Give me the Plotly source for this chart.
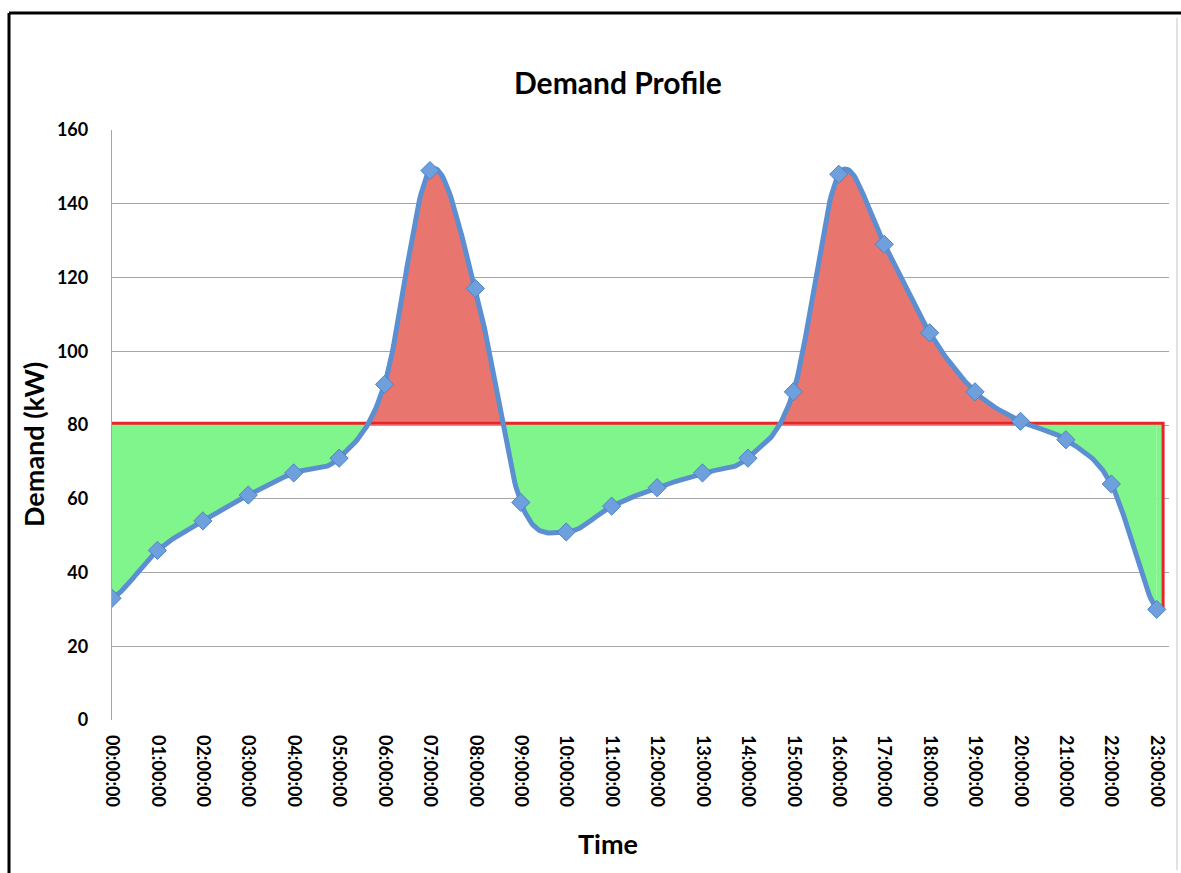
import numpy as np
import plotly.graph_objects as go

# Hourly demand (kW)
hours = [f"{h:02d}:00:00" for h in range(24)]
demand = [33, 46, 54, 61, 67, 71, 91, 149, 117, 59, 51, 58,
          63, 67, 71, 89, 148, 129, 105, 89, 81, 76, 64, 30]
threshold = 80.5
y_ticks = [0, 20, 40, 60, 80, 100, 120, 140, 160]

FONT = "Lato, 'Open Sans', sans-serif"
LINE_BLUE = "#5B8FD2"
RED_FILL = "#E8766E"
GREEN_FILL = "#80F58C"
THRESH_RED = "#E8262A"


def smooth_curve(y, samples=30):
    """Catmull-Rom smoothing through every point (same style as a smoothed line)."""
    y = np.asarray(y, dtype=float)
    n = len(y)
    p = np.concatenate([[y[0]], y, [y[-1]]])
    xs, ys = [], []
    for i in range(n - 1):
        p0, p1, p2, p3 = p[i], p[i + 1], p[i + 2], p[i + 3]
        t = np.linspace(0, 1, samples, endpoint=False)
        seg = 0.5 * ((2 * p1) + (-p0 + p2) * t +
                     (2 * p0 - 5 * p1 + 4 * p2 - p3) * t ** 2 +
                     (-p0 + 3 * p1 - 3 * p2 + p3) * t ** 3)
        xs.append(i + t)
        ys.append(seg)
    xs.append([n - 1])
    ys.append([y[-1]])
    return np.concatenate(xs), np.concatenate(ys)


x_idx = np.arange(len(hours))
cx, cy = smooth_curve(demand)
base = np.full_like(cx, threshold)
above = np.maximum(cy, threshold)
below = np.minimum(cy, threshold)

fig = go.Figure()

# red area above the threshold
fig.add_trace(go.Scatter(x=cx, y=base, mode="lines", line=dict(width=0),
                         hoverinfo="skip", showlegend=False))
fig.add_trace(go.Scatter(x=cx, y=above, mode="lines", line=dict(width=0),
                         fill="tonexty", fillcolor=RED_FILL,
                         hoverinfo="skip", showlegend=False))
# green area below the threshold
fig.add_trace(go.Scatter(x=cx, y=base, mode="lines", line=dict(width=0),
                         hoverinfo="skip", showlegend=False))
fig.add_trace(go.Scatter(x=cx, y=below, mode="lines", line=dict(width=0),
                         fill="tonexty", fillcolor=GREEN_FILL,
                         hoverinfo="skip", showlegend=False))

# green band continues a little past the last hour
end_x = x_idx[-1] + 0.14
fig.add_trace(go.Scatter(x=[x_idx[-1], end_x, end_x, x_idx[-1]],
                         y=[threshold, threshold, demand[-1], demand[-1]],
                         mode="lines", line=dict(width=0), fill="toself",
                         fillcolor=GREEN_FILL, hoverinfo="skip", showlegend=False))

# threshold line with its closing edge
fig.add_trace(go.Scatter(x=[x_idx[0], end_x, end_x], y=[threshold, threshold, demand[-1]],
                         mode="lines", line=dict(color=THRESH_RED, width=3),
                         hoverinfo="skip", showlegend=False))

# smoothed demand line
fig.add_trace(go.Scatter(x=cx, y=cy, mode="lines",
                         line=dict(color=LINE_BLUE, width=5),
                         hoverinfo="skip", showlegend=False))
# data markers
fig.add_trace(go.Scatter(x=x_idx, y=demand, mode="markers",
                         marker=dict(symbol="diamond", size=14, color="#6FA0DE",
                                     line=dict(color="#4F82C4", width=1)),
                         text=hours, showlegend=False))

fig.update_layout(
    width=1181, height=873,
    margin=dict(l=112, r=12, t=130, b=153),
    paper_bgcolor="white", plot_bgcolor="white",
    font=dict(family=FONT, color="black"),
    xaxis=dict(range=[0, 23.27], tickmode="array", tickvals=list(x_idx),
               ticktext=hours, tickangle=90, showgrid=False, zeroline=False,
               showline=False, ticks="", ticklabelstandoff=14,
               tickfont=dict(family=FONT, size=18, color="black", weight="bold")),
    yaxis=dict(range=[0, 160], tickvals=y_ticks, showgrid=True,
               gridcolor="#A6A6A6", gridwidth=1.3, zeroline=False,
               showline=True, linecolor="#A6A6A6", linewidth=1.3, ticks="",
               ticklabelstandoff=19,
               tickfont=dict(family=FONT, size=18, color="black", weight="bold")),
    annotations=[
        dict(text="<b>Demand Profile</b>", xref="paper", yref="paper",
             x=(618 - 112) / 1057, y=1 + (130 - 82) / 590, showarrow=False,
             font=dict(family=FONT, size=30, color="black"),
             xanchor="center", yanchor="middle"),
        dict(text="<b>Demand (kW)</b>", xref="paper", yref="paper",
             x=(33 - 112) / 1057, y=(720 - 445) / 590, showarrow=False, textangle=-90,
             font=dict(family=FONT, size=27, color="black"),
             xanchor="center", yanchor="middle"),
        dict(text="<b>Time</b>", xref="paper", yref="paper",
             x=(608 - 112) / 1057, y=-(843 - 720) / 590, showarrow=False,
             font=dict(family=FONT, size=27, color="black"),
             xanchor="center", yanchor="middle"),
    ],
    shapes=[
        # chart frame
        dict(type="line", xref="paper", yref="paper",
             x0=(9 - 112) / 1057, x1=(1181 - 112) / 1057,
             y0=(720 - 13) / 590, y1=(720 - 13) / 590,
             line=dict(color="black", width=3)),
        dict(type="line", xref="paper", yref="paper",
             x0=(9 - 112) / 1057, x1=(9 - 112) / 1057,
             y0=(720 - 13) / 590, y1=(720 - 873) / 590,
             line=dict(color="black", width=3)),
        dict(type="line", xref="paper", yref="paper",
             x0=(1177 - 112) / 1057, x1=(1177 - 112) / 1057,
             y0=(720 - 18) / 590, y1=(720 - 870) / 590,
             line=dict(color="#DADAD2", width=1.5)),
    ],
)

fig.write_html("out.html")
